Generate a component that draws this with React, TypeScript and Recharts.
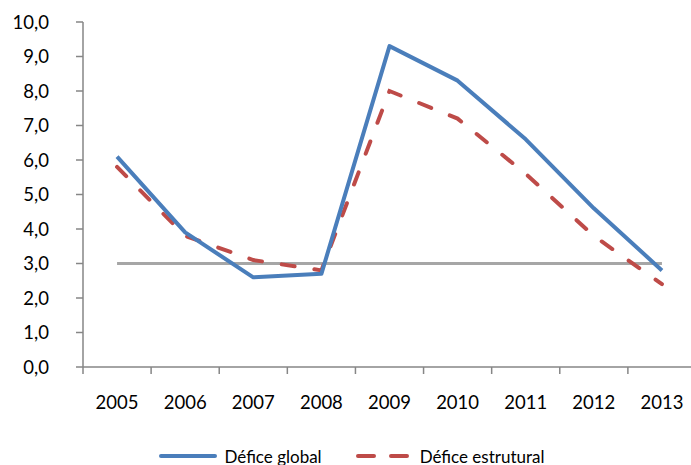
import { Legend, Line, LineChart, XAxis, YAxis } from "recharts";

const years = ["2005", "2006", "2007", "2008", "2009", "2010", "2011", "2012", "2013"];
const deficeGlobal = [6.1, 3.9, 2.6, 2.7, 9.3, 8.3, 6.6, 4.6, 2.8];
const deficeEstrutural = [5.8, 3.8, 3.1, 2.8, 8.0, 7.2, 5.6, 3.8, 2.4];
const limite = [3.0, 3.0, 3.0, 3.0, 3.0, 3.0, 3.0, 3.0, 3.0];
const yTicks = [0, 1, 2, 3, 4, 5, 6, 7, 8, 9, 10];

const BLUE = "#4a7ebb";
const RED = "#be4b48";
const GRAY = "#a6a6a6";
const AXIS = "#868686";

// Excel-style category axis: tick marks sit between categories, labels in the middle
function YearTick(props: any) {
  const { x, y, payload, index, visibleTicksCount } = props;
  const half = payload?.offset ?? 0;
  const last = index === visibleTicksCount - 1;
  return (
    <g>
      <line x1={x - half} y1={y} x2={x - half} y2={y + 7} stroke={AXIS} strokeWidth={1.5} />
      {last && <line x1={x + half} y1={y} x2={x + half} y2={y + 7} stroke={AXIS} strokeWidth={1.5} />}
      <text x={x} y={y + 29} dy="0.71em" textAnchor="middle" fill="#000" fontSize={18.5}>
        {payload.value}
      </text>
    </g>
  );
}

function ChartLegend() {
  return (
    <div style={{ display: "flex", justifyContent: "center", alignItems: "center", height: 22, marginTop: 2, paddingLeft: 8, fontSize: 17, color: "#000" }}>
      <svg width={58} height={8} style={{ marginRight: 7 }}>
        <line x1={2} y1={4} x2={56} y2={4} stroke={BLUE} strokeWidth={4} strokeLinecap="round" />
      </svg>
      <span>Défice global</span>
      <svg width={53} height={8} style={{ marginLeft: 34, marginRight: 11 }}>
        <line x1={2} y1={4} x2={51} y2={4} stroke={RED} strokeWidth={4} strokeLinecap="round" strokeDasharray="16 17" />
      </svg>
      <span>Défice estrutural</span>
    </div>
  );
}

export default function App() {
  const data = years.map((year, i) => ({
    year,
    global: deficeGlobal[i],
    estrutural: deficeEstrutural[i],
    limite: limite[i],
  }));

  return (
    <div style={{ position: "absolute", left: 0, top: 0, width: 691, height: 465, overflow: "hidden", background: "#fff", fontFamily: "Lato, sans-serif" }}>
      <LineChart width={696} height={465} data={data} margin={{ top: 22, right: 0, bottom: 0, left: 0 }}>
        <XAxis
          dataKey="year"
          scale="band"
          tickLine={false}
          tickSize={0}
          tickMargin={0}
          height={76}
          interval={0}
          stroke={AXIS}
          strokeWidth={1.5}
          tick={<YearTick />}
        />
        <YAxis
          domain={[0, 10]}
          ticks={yTicks}
          interval={0}
          width={83}
          tickSize={7}
          tickMargin={27}
          stroke={AXIS}
          strokeWidth={1.5}
          tick={{ fill: "#000", fontSize: 18.5 }}
          tickFormatter={(v: number) => v.toFixed(1).replace(".", ",")}
        />
        <Legend verticalAlign="bottom" height={22} content={() => <ChartLegend />} />
        <Line dataKey="limite" stroke={GRAY} strokeWidth={3} dot={false} legendType="none" isAnimationActive={false} />
        <Line dataKey="estrutural" name="Défice estrutural" stroke={RED} strokeWidth={4} strokeDasharray="13 20" strokeLinecap="round" dot={false} isAnimationActive={false} />
        <Line dataKey="global" name="Défice global" stroke={BLUE} strokeWidth={4} strokeLinejoin="round" dot={false} isAnimationActive={false} />
      </LineChart>
    </div>
  );
}
